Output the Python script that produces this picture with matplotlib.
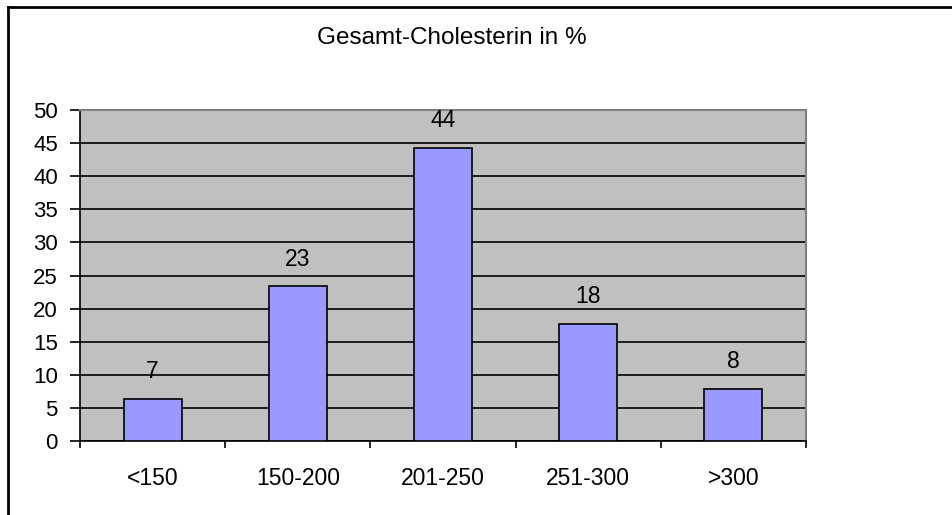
import numpy as np
import matplotlib.pyplot as plt
from matplotlib.lines import Line2D

plt.rcParams["font.family"] = ["Liberation Sans", "DejaVu Sans"]

categories = ["<150", "150-200", "201-250", "251-300", ">300"]
values = [6.4, 23.4, 44.3, 17.7, 7.9]
value_labels = ["7", "23", "44", "18", "8"]
y_ticks = [0, 5, 10, 15, 20, 25, 30, 35, 40, 45, 50]

fig = plt.figure(figsize=(9.52, 5.15), dpi=100)
ax = fig.add_axes([80 / 952, 74 / 515, 726 / 952, 331 / 515])
ax.set_facecolor("#C0C0C0")

x = np.arange(len(categories))
ax.bar(x, values, width=0.4, color="#9999FF", edgecolor="black", linewidth=1.2, zorder=3)
for xi, v, lab in zip(x, values, value_labels):
    ax.annotate(lab, (xi, v), xytext=(0, 19.5), textcoords="offset points",
                ha="center", va="center", fontsize=16.5)

ax.set_xlim(-0.5, len(categories) - 0.5)
ax.set_ylim(0, 50)
ax.set_yticks(y_ticks)
ax.yaxis.grid(True, color="black", linewidth=1.2, zorder=1)
ax.set_axisbelow(True)
ax.tick_params(axis="y", labelsize=16, length=7, width=1.2, pad=9)

ax.set_xticks(x)
ax.set_xticklabels(categories)
ax.set_xticks(np.arange(-0.5, len(categories)), minor=True)
ax.tick_params(axis="x", which="major", length=0, labelsize=16.5, pad=19)
ax.tick_params(axis="x", which="minor", length=5, width=1.2)

ax.spines["left"].set_color("black")
ax.spines["bottom"].set_color("black")
ax.spines["left"].set_linewidth(1.2)
ax.spines["bottom"].set_linewidth(1.2)
ax.spines["top"].set_color("#808080")
ax.spines["right"].set_color("#808080")
ax.spines["top"].set_linewidth(1.5)
ax.spines["right"].set_linewidth(1.5)

fig.text(452 / 952, 1 - 44 / 515, "Gesamt-Cholesterin in %", ha="center", va="baseline", fontsize=17.5)

# chart frame (left and top edges visible)
fig.add_artist(Line2D([8 / 952, 8 / 952], [0, 1 - 7 / 515], color="black", linewidth=2, transform=fig.transFigure))
fig.add_artist(Line2D([8 / 952, 1], [1 - 7 / 515, 1 - 7 / 515], color="black", linewidth=2, transform=fig.transFigure))

plt.savefig("out.png", dpi=100)
plt.close()
